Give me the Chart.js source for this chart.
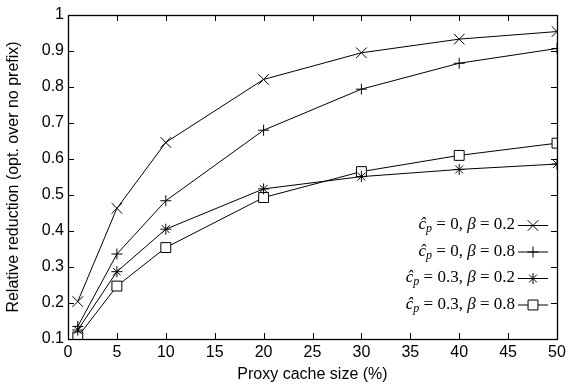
<!DOCTYPE html>
<html>
<head>
<meta charset="utf-8">
<script src="https://cdn.jsdelivr.net/npm/chart.js@4.4.1/dist/chart.umd.min.js"></script>
<style>
  html, body { margin: 0; padding: 0; background: #fff; }
  #wrap { width: 566px; height: 388px; }
</style>
</head>
<body>
<div id="wrap"><canvas id="grafico" width="566" height="388"></canvas></div>
<script>
// --- dados ---
const tamanhoCache = [1, 5, 10, 20, 30, 40, 50];
const serieA = [0.204, 0.463, 0.646, 0.821, 0.895, 0.933, 0.954]; // cp=0, b=0.2
const serieB = [0.135, 0.336, 0.484, 0.680, 0.794, 0.866, 0.907]; // cp=0, b=0.8
const serieC = [0.125, 0.287, 0.405, 0.517, 0.551, 0.571, 0.586]; // cp=0.3, b=0.2
const serieD = [0.106, 0.247, 0.354, 0.493, 0.565, 0.610, 0.644]; // cp=0.3, b=0.8
const rotulosLegenda = [['0', '0.2'], ['0', '0.8'], ['0.3', '0.2'], ['0.3', '0.8']];
const marcadores = ['crossRot', 'cross', 'star', 'rect'];
const raios = [7.5, 5.5, 5.5, 7];
const ticksX = [0, 5, 10, 15, 20, 25, 30, 35, 40, 45, 50];
const ticksY = [0.1, 0.2, 0.3, 0.4, 0.5, 0.6, 0.7, 0.8, 0.9, 1];

const series = [serieA, serieB, serieC, serieD];

function montarDataset(valores, i) {
    return {
        data: valores.map((v, k) => ({ x: tamanhoCache[k], y: v })),
        showLine: true,
        borderColor: '#000',
        borderWidth: 1,
        backgroundColor: '#fff',
        pointStyle: marcadores[i],
        pointRadius: raios[i],
        pointBorderColor: '#000',
        pointBackgroundColor: '#fff',
        pointBorderWidth: 1
    };
}

// caixa e ticks para dentro (estilo gnuplot)
const caixaPlugin = {
    id: 'caixa',
    afterDatasetsDraw(chart) {
        const { ctx, chartArea: a, scales } = chart;
        ctx.save();
        ctx.strokeStyle = '#000';
        ctx.lineWidth = 1;
        ctx.beginPath();
        ticksX.forEach(t => {
            const x = Math.round(scales.x.getPixelForValue(t)) + 0.5;
            ctx.moveTo(x, a.bottom); ctx.lineTo(x, a.bottom - 6);
            ctx.moveTo(x, a.top); ctx.lineTo(x, a.top + 6);
        });
        ticksY.forEach(t => {
            const y = Math.round(scales.y.getPixelForValue(t)) + 0.5;
            ctx.moveTo(a.left, y); ctx.lineTo(a.left + 6, y);
            ctx.moveTo(a.right, y); ctx.lineTo(a.right - 6, y);
        });
        ctx.stroke();
        ctx.lineWidth = 1.3;
        ctx.strokeRect(Math.round(a.left) + 0.5, Math.round(a.top) + 0.5,
            Math.round(a.right - a.left), Math.round(a.bottom - a.top));

        // legenda
        const direitaTexto = 515;
        const x0 = 518, x1 = 548;
        rotulosLegenda.forEach((r, i) => {
            const y = 225 + i * 26.5;
            desenharRotulo(ctx, r[0], r[1], direitaTexto, y);
            ctx.lineWidth = 1;
            ctx.beginPath();
            ctx.moveTo(x0, y + 0.5); ctx.lineTo(x1, y + 0.5);
            ctx.stroke();
            ctx.fillStyle = '#fff';
            Chart.helpers.drawPoint(ctx, {
                pointStyle: marcadores[i], radius: raios[i], rotation: 0, borderWidth: 1
            }, (x0 + x1) / 2, y + 0.5);
        });
        ctx.restore();
    }
};

function desenharRotulo(ctx, cp, beta, direita, y) {
    const partes = [
        { t: 'ĉ', f: 'italic 17px "Liberation Serif"', dy: 0 },
        { t: 'p', f: 'italic 12px "Liberation Serif"', dy: 4 },
        { t: ' = ' + cp + ', ', f: '17px "Liberation Serif"', dy: 0 },
        { t: 'β', f: 'italic 17px "Liberation Serif"', dy: 0 },
        { t: ' = ' + beta, f: '17px "Liberation Serif"', dy: 0 }
    ];
    let largura = 0;
    partes.forEach(p => { ctx.font = p.f; p.w = ctx.measureText(p.t).width; largura += p.w; });
    let x = direita - largura;
    ctx.fillStyle = '#000';
    ctx.textBaseline = 'middle';
    ctx.textAlign = 'left';
    partes.forEach(p => {
        ctx.font = p.f;
        ctx.fillText(p.t, x, y + p.dy);
        x += p.w;
    });
}

const ctx = document.getElementById('grafico').getContext('2d');
new Chart(ctx, {
    type: 'scatter',
    data: { datasets: series.map(montarDataset) },
    options: {
        responsive: false,
        animation: false,
        layout: { padding: { top: 15, right: 9, left: 0, bottom: 0 } },
        plugins: { legend: { display: false }, tooltip: { enabled: false } },
        scales: {
            x: {
                type: 'linear', min: 0, max: 50,
                afterBuildTicks: s => { s.ticks = ticksX.map(v => ({ value: v })); },
                afterFit: s => { s.height = 49; s.paddingRight = 0; s.paddingLeft = 0; },
                grid: { display: false, drawTicks: false },
                border: { display: false },
                ticks: { color: '#000', font: { family: 'Liberation Sans', size: 16 }, padding: 4, maxRotation: 0 },
                title: { display: true, text: 'Proxy cache size (%)', color: '#000',
                    font: { family: 'Liberation Sans', size: 16 }, padding: { top: 0 } }
            },
            y: {
                type: 'linear', min: 0.1, max: 1,
                afterBuildTicks: s => { s.ticks = ticksY.map(v => ({ value: v })); },
                afterFit: s => { s.width = 68; s.paddingTop = 0; s.paddingBottom = 0; },
                grid: { display: false, drawTicks: false },
                border: { display: false },
                ticks: { color: '#000', font: { family: 'Liberation Sans', size: 16 }, padding: 4,
                    callback: v => (Math.round(v * 10) / 10).toString() },
                title: { display: true, text: 'Relative reduction (opt. over no prefix)', color: '#000',
                    font: { family: 'Liberation Sans', size: 16 }, padding: { bottom: 2 } }
            }
        }
    },
    plugins: [caixaPlugin]
});
</script>
</body>
</html>
